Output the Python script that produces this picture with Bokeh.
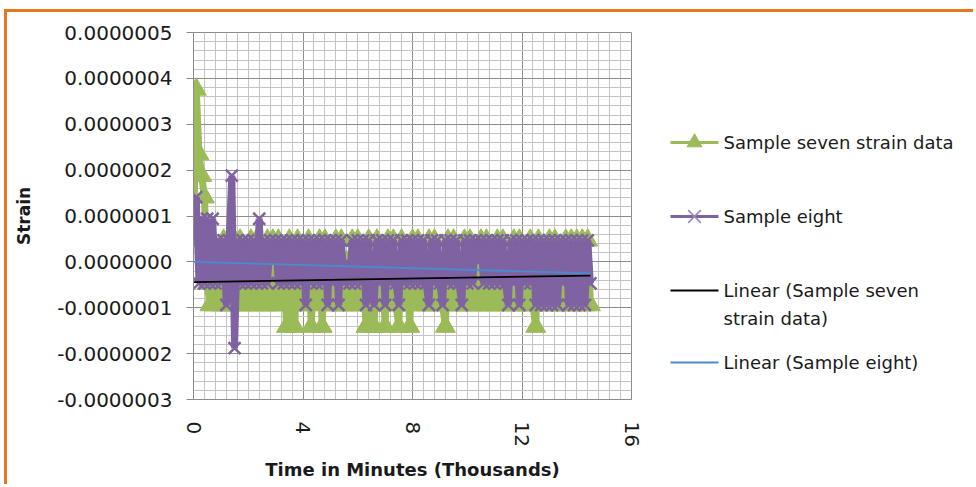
import math
from bokeh.plotting import figure
from bokeh.layouts import row
from bokeh.models import Range1d, SingleIntervalTicker, PrintfTickFormatter
from bokeh.core.properties import value
from bokeh.embed import file_html
from bokeh.resources import INLINE

# ---------------- data ----------------
time_thousands = [
    0.0, 0.1, 0.2, 0.3, 0.4, 0.5, 0.6, 0.7, 0.8, 0.9,
    1.0, 1.1, 1.2, 1.3, 1.4, 1.5, 1.6, 1.7, 1.8, 1.9,
    2.0, 2.1, 2.2, 2.3, 2.4, 2.5, 2.6, 2.7, 2.8, 2.9,
    3.0, 3.1, 3.2, 3.3, 3.4, 3.5, 3.6, 3.7, 3.8, 3.9,
    4.0, 4.1, 4.2, 4.3, 4.4, 4.5, 4.6, 4.7, 4.8, 4.9,
    5.0, 5.1, 5.2, 5.3, 5.4, 5.5, 5.6, 5.7, 5.8, 5.9,
    6.0, 6.1, 6.2, 6.3, 6.4, 6.5, 6.6, 6.7, 6.8, 6.9,
    7.0, 7.1, 7.2, 7.3, 7.4, 7.5, 7.6, 7.7, 7.8, 7.9,
    8.0, 8.1, 8.2, 8.3, 8.4, 8.5, 8.6, 8.7, 8.8, 8.9,
    9.0, 9.1, 9.2, 9.3, 9.4, 9.5, 9.6, 9.7, 9.8, 9.9,
    10.0, 10.1, 10.2, 10.3, 10.4, 10.5, 10.6, 10.7, 10.8, 10.9,
    11.0, 11.1, 11.2, 11.3, 11.4, 11.5, 11.6, 11.7, 11.8, 11.9,
    12.0, 12.1, 12.2, 12.3, 12.4, 12.5, 12.6, 12.7, 12.8, 12.9,
    13.0, 13.1, 13.2, 13.3, 13.4, 13.5, 13.6, 13.7, 13.8, 13.9,
    14.0, 14.1, 14.2, 14.3, 14.4, 14.5,
]

sample_seven = [
    4.7e-8, 3.76e-7, 2.35e-7, 1.88e-7, 1.41e-7, -4.7e-8, -9.4e-8, 4.7e-8, -9.4e-8, 0.0,
    -9.4e-8, 4.7e-8, -9.4e-8, 0.0, -9.4e-8, 4.7e-8, -9.4e-8, 4.7e-8, -9.4e-8, 0.0,
    -9.4e-8, 4.7e-8, -9.4e-8, 4.7e-8, -9.4e-8, 0.0, -9.4e-8, 4.7e-8, -9.4e-8, 4.7e-8,
    -9.4e-8, 4.7e-8, -9.4e-8, 0.0, -1.41e-7, 4.7e-8, -9.4e-8, -1.41e-7, 4.7e-8, -9.4e-8,
    0.0, -9.4e-8, 4.7e-8, -1.41e-7, 0.0, -9.4e-8, 4.7e-8, -1.41e-7, 4.7e-8, -9.4e-8,
    0.0, -9.4e-8, 4.7e-8, -9.4e-8, 4.7e-8, -9.4e-8, 0.0, -9.4e-8, 4.7e-8, -9.4e-8,
    4.7e-8, -9.4e-8, 0.0, -1.41e-7, 4.7e-8, -9.4e-8, -1.41e-7, 4.7e-8, -9.4e-8, 0.0,
    -1.41e-7, 4.7e-8, -9.4e-8, 4.7e-8, -9.4e-8, -1.41e-7, 4.7e-8, -9.4e-8, 0.0, -1.41e-7,
    4.7e-8, -9.4e-8, 4.7e-8, -9.4e-8, 0.0, -9.4e-8, 4.7e-8, -9.4e-8, 4.7e-8, -9.4e-8,
    0.0, -9.4e-8, -1.41e-7, 4.7e-8, -9.4e-8, 4.7e-8, -9.4e-8, 0.0, -9.4e-8, 4.7e-8,
    -9.4e-8, 4.7e-8, -9.4e-8, 0.0, -9.4e-8, 4.7e-8, -9.4e-8, 4.7e-8, -9.4e-8, 0.0,
    -9.4e-8, 4.7e-8, -9.4e-8, 4.7e-8, -9.4e-8, 0.0, -9.4e-8, 4.7e-8, -9.4e-8, 4.7e-8,
    -9.4e-8, 0.0, -9.4e-8, 4.7e-8, -9.4e-8, -1.41e-7, 4.7e-8, -9.4e-8, 0.0, -9.4e-8,
    4.7e-8, -9.4e-8, 4.7e-8, -9.4e-8, 0.0, -9.4e-8, 4.7e-8, -9.4e-8, 4.7e-8, -9.4e-8,
    4.7e-8, -9.4e-8, 4.7e-8, -9.4e-8, 4.7e-8, -9.4e-8,
]

sample_eight = [
    9.4e-8, 1.41e-7, -4.7e-8, 9.4e-8, -4.7e-8, 9.4e-8, -4.7e-8, 9.4e-8, -4.7e-8, 4.7e-8,
    -4.7e-8, 4.7e-8, -9.4e-8, 4.7e-8, 1.88e-7, -1.88e-7, 4.7e-8, -4.7e-8, 4.7e-8, -4.7e-8,
    4.7e-8, -4.7e-8, 4.7e-8, -4.7e-8, 9.4e-8, -4.7e-8, 4.7e-8, -4.7e-8, 4.7e-8, 0.0,
    4.7e-8, -4.7e-8, 4.7e-8, -4.7e-8, 4.7e-8, -4.7e-8, 4.7e-8, -4.7e-8, 4.7e-8, -4.7e-8,
    4.7e-8, -9.4e-8, 4.7e-8, -4.7e-8, 4.7e-8, -4.7e-8, 4.7e-8, -4.7e-8, 4.7e-8, -9.4e-8,
    4.7e-8, -4.7e-8, 4.7e-8, -9.4e-8, 4.7e-8, -4.7e-8, 0.0, -4.7e-8, 4.7e-8, -4.7e-8,
    4.7e-8, -4.7e-8, 4.7e-8, -9.4e-8, 4.7e-8, -4.7e-8, -9.4e-8, 4.7e-8, -4.7e-8, 4.7e-8,
    -9.4e-8, 4.7e-8, -4.7e-8, 4.7e-8, -4.7e-8, -9.4e-8, 4.7e-8, -4.7e-8, 4.7e-8, -4.7e-8,
    4.7e-8, -4.7e-8, 4.7e-8, -4.7e-8, 4.7e-8, -4.7e-8, -9.4e-8, 4.7e-8, -4.7e-8, 4.7e-8,
    -4.7e-8, -9.4e-8, 4.7e-8, -4.7e-8, 4.7e-8, -4.7e-8, 4.7e-8, -4.7e-8, -9.4e-8, 4.7e-8,
    -4.7e-8, 4.7e-8, -4.7e-8, 4.7e-8, 0.0, 4.7e-8, -4.7e-8, 4.7e-8, -4.7e-8, 4.7e-8,
    -4.7e-8, 4.7e-8, -4.7e-8, 4.7e-8, -4.7e-8, -9.4e-8, 4.7e-8, -4.7e-8, 4.7e-8, -9.4e-8,
    4.7e-8, -4.7e-8, 4.7e-8, -4.7e-8, 4.7e-8, -9.4e-8, 4.7e-8, -9.4e-8, 4.7e-8, -9.4e-8,
    4.7e-8, -9.4e-8, 4.7e-8, -9.4e-8, 4.7e-8, -4.7e-8, 4.7e-8, -9.4e-8, 4.7e-8, -9.4e-8,
    4.7e-8, -9.4e-8, 4.7e-8, -9.4e-8, 4.7e-8, -4.7e-8,
]

trend_x = [0.0, 14.5]
trend_seven = [-4.4e-8, -3.0e-8]
trend_eight = [0.0, -2.5e-8]

legend_lines = ["Sample  seven strain data", "Sample eight",
                "Linear (Sample  seven", "strain data)", "Linear (Sample eight)"]

# ---------------- styling ----------------
GREEN = "#9BBB59"
PURPLE = "#7E62A1"
PURPLE_LIGHT = "#9A86BC"
BLUE = "#4A8BD0"
ORANGE = "#E8761E"
FONT = "DejaVu Sans"

H = 472
WP = 644          # main chart canvas width
WQ = 322          # legend canvas width
TOP, BOTTOM = 20, 85

p = figure(width=WP, height=H, output_backend="svg", toolbar_location=None,
           x_range=Range1d(0, 16), y_range=Range1d(-3e-7, 5e-7),
           min_border_left=186, min_border_right=20,
           min_border_top=TOP, min_border_bottom=BOTTOM)
p.background_fill_color = "white"
p.border_fill_color = "white"
p.outline_line_color = "#8c8c8c"

# axes
p.xaxis.ticker = SingleIntervalTicker(interval=4, num_minor_ticks=10)
p.yaxis.ticker = SingleIntervalTicker(interval=1e-7, num_minor_ticks=5)
p.yaxis.formatter = PrintfTickFormatter(format="%.7f")
p.xaxis.major_label_orientation = -math.pi / 2

for ax in (p.xaxis[0], p.yaxis[0]):
    ax.axis_line_color = "#8c8c8c"
    ax.major_tick_line_color = "#8c8c8c"
    ax.minor_tick_in = 0
    ax.minor_tick_out = 0
    ax.major_tick_in = 0
    ax.major_label_text_font = FONT
    ax.major_label_text_font_size = "20px"
    ax.major_label_text_color = "#1a1a1a"
    ax.axis_label_text_font = FONT
    ax.axis_label_text_font_style = "bold"
    ax.axis_label_text_color = "#1a1a1a"

p.yaxis.major_tick_out = 7
p.yaxis.major_label_standoff = 14
p.yaxis.axis_label = "Strain"
p.yaxis.axis_label_text_font_size = "17px"
p.yaxis.axis_label_standoff = 20

p.xaxis.major_tick_out = 0
p.xaxis.major_label_standoff = 22
p.xaxis.axis_label = "Time in Minutes (Thousands)"
p.xaxis.axis_label_text_font_size = "18px"
p.xaxis.axis_label_standoff = 9

# grids
for g in (p.xgrid[0], p.ygrid[0]):
    g.grid_line_color = "#8c8c8c"
    g.grid_line_width = 1
    g.minor_grid_line_color = "#c4c4c4"
    g.minor_grid_line_width = 1

# series
p.line(time_thousands, sample_seven, line_color=GREEN, line_width=7)
p.scatter(time_thousands, sample_seven, marker="triangle", size=20,
          fill_color=GREEN, line_color=GREEN)
p.line(time_thousands, sample_eight, line_color=PURPLE, line_width=7)
p.scatter(time_thousands, sample_eight, marker="x", size=17,
          line_color=PURPLE, line_width=2.5)
p.line(trend_x, trend_seven, line_color="black", line_width=1.8)
p.line(trend_x, trend_eight, line_color=BLUE, line_width=1.8)

# ---------------- legend panel (to the right of the plot) ----------------
# its frame is aligned with the chart's frame; y values are canvas pixels
q = figure(width=WQ, height=H, output_backend="svg", toolbar_location=None,
           x_range=Range1d(0, WQ), y_range=Range1d(H - BOTTOM, TOP),
           x_axis_type=None, y_axis_type=None,
           min_border_left=0, min_border_right=0,
           min_border_top=TOP, min_border_bottom=BOTTOM)
q.outline_line_color = None
q.background_fill_color = "white"
q.border_fill_color = "white"

GX0, GX1, GXM, TX = 19, 67, 43, 72
rows_y = [130, 204, 278, 350]
text_y = [130, 204, 278, 306, 350]

q.line([GX0, GX1], [rows_y[0], rows_y[0]], line_color=GREEN, line_width=3)
q.scatter([GXM], [rows_y[0]], marker="triangle", size=15,
          fill_color=GREEN, line_color=GREEN)
q.line([GX0, GX1], [rows_y[1], rows_y[1]], line_color=PURPLE, line_width=3)
q.scatter([GXM], [rows_y[1]], marker="x", size=18,
          line_color=PURPLE_LIGHT, line_width=1.5)
q.line([GX0, GX1], [rows_y[2], rows_y[2]], line_color="black", line_width=2)
q.line([GX0, GX1], [rows_y[3], rows_y[3]], line_color=BLUE, line_width=2)
q.text(x=[TX] * len(legend_lines), y=text_y, text=legend_lines,
       text_baseline="middle", text_align="left",
       text_font=value(FONT), text_font_size=value("18px"),
       text_color="#1a1a1a")

layout = row(p, q, spacing=0,
             styles={"margin-left": "4px", "margin-top": "9px",
                     "border-top": "3px solid " + ORANGE,
                     "border-left": "3px solid " + ORANGE})

open("out.html", "w").write(file_html(layout, INLINE))
